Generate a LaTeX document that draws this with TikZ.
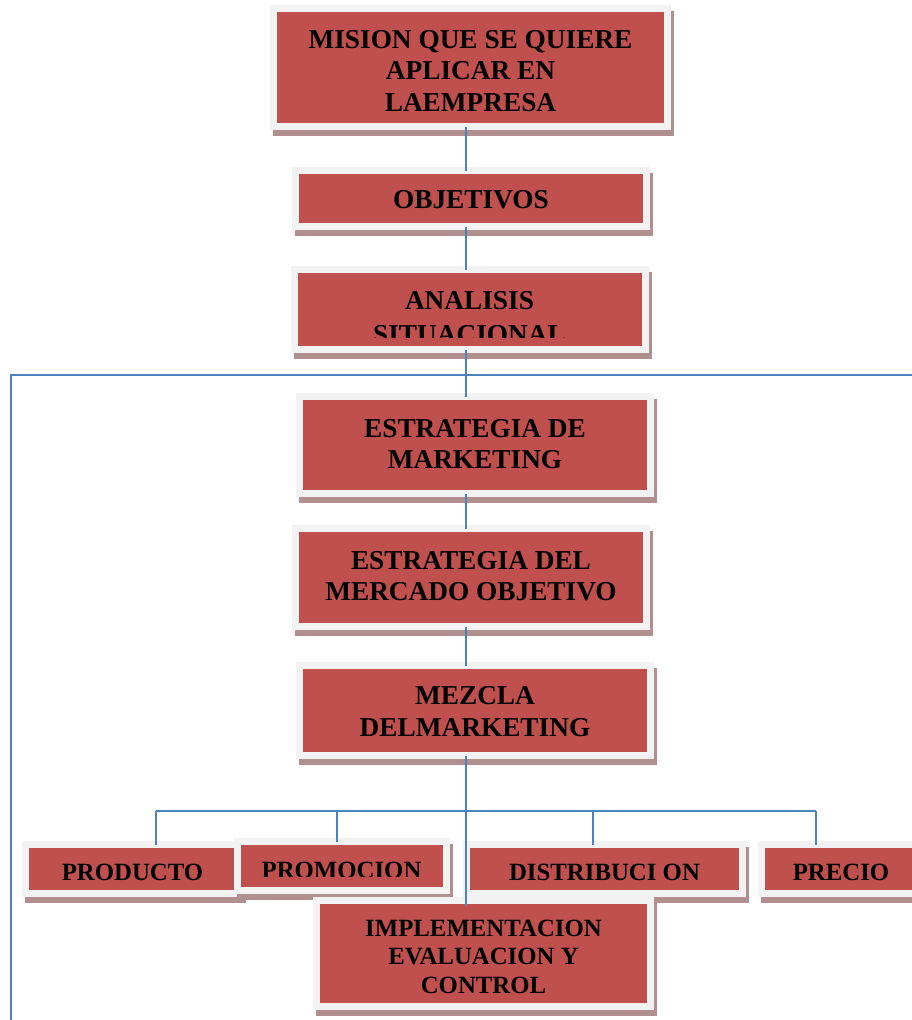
\documentclass[tikz,border=0pt]{standalone}
\usepackage{fontspec}
\setmainfont{Liberation Serif}
\usetikzlibrary{shadows}
\definecolor{boxred}{HTML}{C0504D}
\definecolor{framegray}{HTML}{F2F2F2}
\definecolor{shadowc}{RGB}{178,143,143}
\definecolor{linkblue}{HTML}{4F81BD}
\begin{document}
\begin{tikzpicture}[x=1pt,y=1pt,
  card/.style={rectangle, fill=boxred, draw=framegray, line width=7pt,
    inner sep=0pt, outer sep=0pt,
    general shadow={shadow xshift=3pt, shadow yshift=-5.5pt, fill=shadowc,
      draw=shadowc, line width=7pt, opacity=1}},
  lbl/.style={inner sep=0pt, outer sep=0pt, align=center,
    font=\bfseries\fontsize{27.3}{31.5}\selectfont},
  smalllbl/.style={lbl, font=\bfseries\fontsize{24.8}{28.5}\selectfont},
  link/.style={draw=linkblue, line width=2pt}
]
\useasboundingbox (0,0) rectangle (912,-1020);

% frame lines
\coordinate (frameTL) at (11,-375);
\coordinate (frameR) at (918,-375);
\coordinate (frameB) at (11,-1026);
\draw[link] (frameB) -- (frameTL) -- (frameR);

% boxes
\node[card, minimum width=394pt, minimum height=118pt] (mision) at (470.5,-67.5) {};
\node[lbl] (misiontxt) at ([yshift=-3.5pt]mision.center)
  {MISION QUE SE QUIERE\\APLICAR EN\\LAEMPRESA};
\node[card, minimum width=351pt, minimum height=56pt] (objetivos) at (471,-198.5) {};
\node[lbl] (objetivostxt) at ([yshift=-1.5pt]objetivos.center) {OBJETIVOS};
\node[card, minimum width=351pt, minimum height=80pt] (analisis) at (469.5,-309.5) {};
\begin{scope}
  \clip (290,-260) rectangle (650,-337);
  \node[lbl, font=\bfseries\fontsize{27.3}{34}\selectfont] (analisistxt) at (469.5,-317.2)
    {ANALISIS\\SITUACIONAL};
\end{scope}
\node[card, minimum width=351pt, minimum height=97pt] (estrategia) at (475,-445) {};
\node[lbl] (estrategiatxt) at ([yshift=1pt]estrategia.center) {ESTRATEGIA DE\\MARKETING};
\node[card, minimum width=351pt, minimum height=98pt] (mercado) at (471,-577.5) {};
\node[lbl] (mercadotxt) at ([yshift=1.5pt]mercado.center) {ESTRATEGIA DEL\\MERCADO OBJETIVO};
\node[card, minimum width=351pt, minimum height=90pt] (mezcla) at (475,-710.5) {};
\node[lbl] (mezclatxt) at ([yshift=-1pt]mezcla.center) {MEZCLA\\DELMARKETING};

\node[card, minimum width=214pt, minimum height=49pt] (producto) at (132.5,-869) {};
\node[smalllbl] (productotxt) at ([yshift=-3.5pt]producto.center) {PRODUCTO};
\node[card, minimum width=209pt, minimum height=49pt] (promocion) at (342,-866) {};
\begin{scope}
  \clip (240,-840) rectangle (445,-876.5);
  \node[smalllbl] (promociontxt) at (341.5,-870.5) {PROMOCION};
\end{scope}
\node[card, minimum width=276pt, minimum height=49pt] (distribucion) at (604.5,-869) {};
\node[smalllbl] (distribuciontxt) at ([yshift=-3.5pt]distribucion.center) {DISTRIBUCI ON};
\node[card, minimum width=159pt, minimum height=49pt] (precio) at (841,-869) {};
\node[smalllbl] (preciotxt) at ([yshift=-3.5pt]precio.center) {PRECIO};
\node[card, minimum width=334pt, minimum height=106pt] (impl) at (483.5,-953.5) {};
\node[smalllbl] (impltxt) at ([yshift=-3pt]impl.center)
  {IMPLEMENTACION\\EVALUACION Y\\CONTROL};

% connectors
\coordinate (spine) at (466,0);
\draw[link] (mision.south -| spine) -- (objetivos.north -| spine);
\draw[link] (objetivos.south -| spine) -- (analisis.north -| spine);
\draw[link] (analisis.south -| spine) -- (estrategia.north -| spine);
\draw[link] (estrategia.south -| spine) -- (mercado.north -| spine);
\draw[link] (mercado.south -| spine) -- (mezcla.north -| spine);
\draw[link, shorten >=-5pt] (mezcla.south -| spine) -- (impl.north -| spine);

\coordinate (busA) at (156,-811);
\coordinate (busB) at (337,-811);
\coordinate (busC) at (593,-811);
\coordinate (busD) at (816,-811);
\draw[link] (busA) -- (busD);
\draw[link] (busA) -- (busA |- producto.north);
\draw[link] (busB) -- (busB |- promocion.north);
\draw[link] (busC) -- (busC |- distribucion.north);
\draw[link] (busD) -- (busD |- precio.north);
\end{tikzpicture}
\end{document}
